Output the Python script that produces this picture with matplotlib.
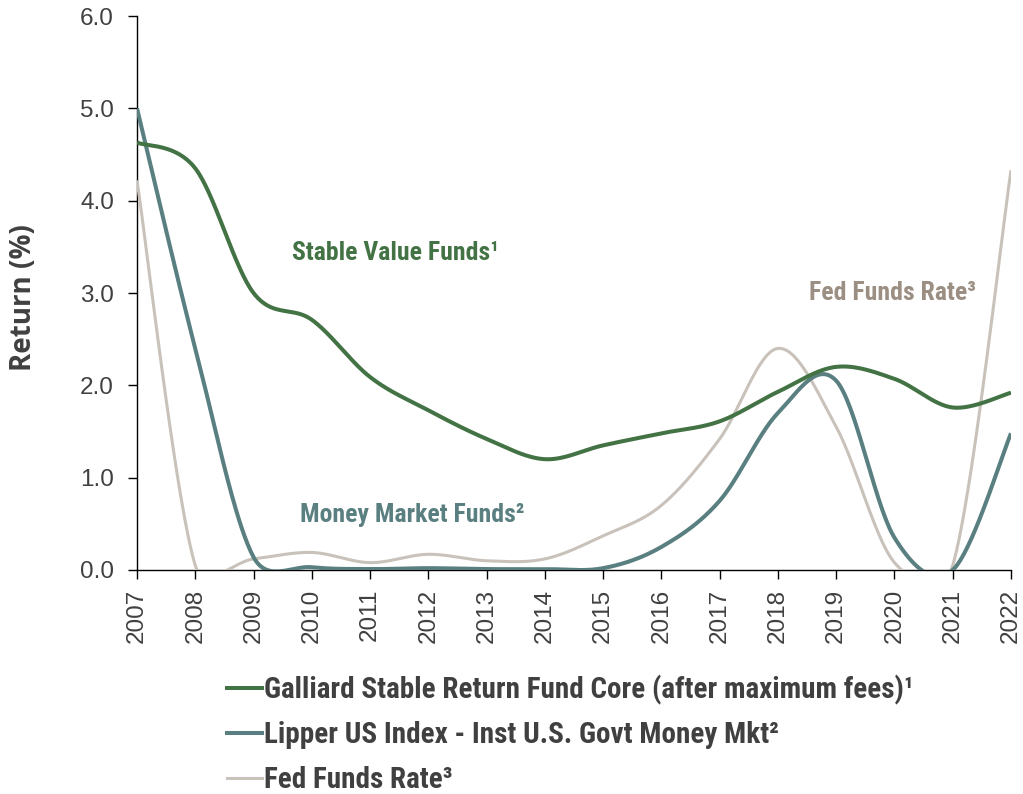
import numpy as np
import matplotlib
matplotlib.use("Agg")
import matplotlib.pyplot as plt
from matplotlib.lines import Line2D

years = list(range(2007, 2023))
galliard = [4.63, 4.35, 3.00, 2.71, 2.09, 1.73, 1.42, 1.20, 1.35, 1.48, 1.61, 1.93, 2.20, 2.07, 1.76, 1.92]
lipper = [5.00, 2.40, 0.14, 0.03, 0.01, 0.02, 0.01, 0.01, 0.02, 0.25, 0.75, 1.70, 2.05, 0.35, 0.00, 1.48]
fedfunds = [4.22, 0.05, 0.12, 0.19, 0.08, 0.17, 0.10, 0.12, 0.37, 0.70, 1.42, 2.40, 1.55, 0.08, 0.05, 4.33]

series_names = ["Galliard Stable Return Fund Core (after maximum fees)\u00b9",
                "Lipper US Index - Inst U.S. Govt Money Mkt\u00b2",
                "Fed Funds Rate\u00b3"]
colors = ["#437345", "#5a7f80", "#c9c2bb"]
widths = [2.9, 2.9, 2.2]
ann_text = ["Stable Value Funds\u00b9", "Money Market Funds\u00b2", "Fed Funds Rate\u00b3"]
ann_colors = ["#437345", "#5a7f80", "#9b8e82"]

XS = 58.27   # px per year (shape of the smoothing in screen space)
YS = 92.3    # px per unit


def smooth(x, y, n=60):
    P = np.column_stack([np.asarray(x, float) * XS, np.asarray(y, float) * YS])
    m = len(P)
    t = np.linspace(0, 1, n)[:, None]
    pts = []
    for i in range(m - 1):
        p0 = P[max(i - 1, 0)]
        p1 = P[i]
        p2 = P[i + 1]
        p3 = P[min(i + 2, m - 1)]
        d12 = np.linalg.norm(p2 - p1)
        d02 = np.linalg.norm(p2 - p0)
        d13 = np.linalg.norm(p3 - p1)
        f0 = 1 / 6 if d02 / 6 < d12 / 2 else d12 / (2 * d02)
        f1 = 1 / 6 if d13 / 6 < d12 / 2 else d12 / (2 * d13)
        b1 = p1 + f0 * (p2 - p0)
        b2 = p2 - f1 * (p3 - p1)
        seg = (1 - t) ** 3 * p1 + 3 * (1 - t) ** 2 * t * b1 + 3 * (1 - t) * t ** 2 * b2 + t ** 3 * p2
        pts.append(seg)
    pts = np.vstack(pts)
    return pts[:, 0] / XS, pts[:, 1] / YS


fig = plt.figure(figsize=(10.23, 7.94), dpi=100)
ax = fig.add_axes([137 / 1023, 1 - 570 / 794, (1011 - 137) / 1023, (570 - 16) / 794])

for i in [2, 1, 0]:
    data = [galliard, lipper, fedfunds][i]
    sx, sy = smooth(years, data)
    ax.plot(sx, sy, color=colors[i], lw=widths[i], solid_capstyle="butt", zorder=3 + (2 - i))

ax.set_xlim(2007, 2022)
ax.set_ylim(0, 6)
ax.set_xticks(years)
ax.set_xticklabels([str(y) for y in years], rotation=90)
ax.set_yticks(np.arange(0, 6.01, 1.0))
ax.set_yticklabels([f"{v:.1f}" for v in np.arange(0, 6.01, 1.0)])
for s in ["top", "right"]:
    ax.spines[s].set_visible(False)
for s in ["left", "bottom"]:
    ax.spines[s].set_color("black")
    ax.spines[s].set_linewidth(1.0)
ax.tick_params(axis="both", direction="out", length=6.5, width=1.0, color="black",
               labelsize=17.5, labelcolor="#404040")
ax.tick_params(axis="y", pad=10)
ax.tick_params(axis="x", pad=7)
for lab in ax.get_xticklabels() + ax.get_yticklabels():
    lab.set_fontfamily("Liberation Sans")

fig.text(24 / 1023, 1 - 298 / 794, "Return (%)", rotation=90, fontsize=20, fontweight="bold",
         color="#404040", family="Open Sans", ha="center", va="center")

ann_pos = [(2009.66, 3.36), (2009.8, 0.52), (2018.53, 2.925)]
for txt, col, (xx, yy) in zip(ann_text, ann_colors, ann_pos):
    ax.text(xx, yy, txt, color=col, fontsize=18.5, fontweight="bold",
            family="Roboto Condensed", va="baseline", ha="left")

handles = [Line2D([0], [0], color=colors[i], lw=widths[i]) for i in range(3)]
leg = fig.legend(handles, series_names, loc="upper left", bbox_to_anchor=(227 / 1023, 1 - 675 / 794),
                 frameon=False, handlelength=1.2, handletextpad=0.08, labelspacing=0.56,
                 borderaxespad=0, borderpad=0,
                 prop={"family": "Roboto Condensed", "weight": "bold", "size": 21})
for t in leg.get_texts():
    t.set_color("#404040")

fig.savefig("out.png", dpi=100)
